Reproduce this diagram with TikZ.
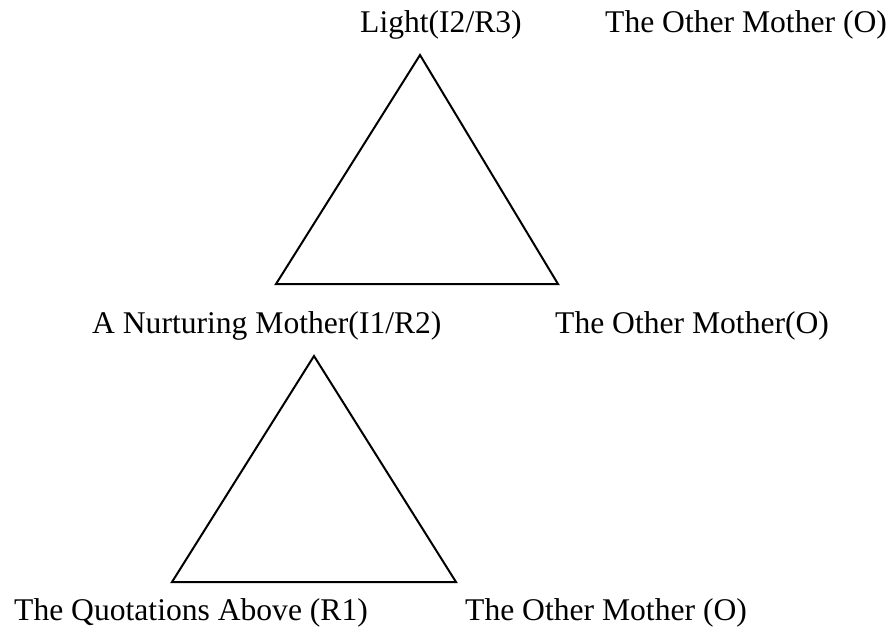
\documentclass[tikz,border=0pt]{standalone}
\usepackage{fontspec}
\setmainfont{Liberation Serif}
\begin{document}
\begin{tikzpicture}[x=1pt,y=-1pt,
  lbl/.style={inner sep=0pt,anchor=base west,font=\fontsize{31.6}{38}\selectfont},
  tri/.style={line width=2pt,line join=miter}]
\useasboundingbox (0,0) rectangle (891,631);
% labels
\node[lbl] (light) at (360,33) {Light(I2/R3)};
\node[lbl] (om1) at (605,33) {The Other Mother (O)};
\node[lbl] (nurt) at (92,333) {A Nurturing Mother(I1/R2)};
\node[lbl] (om2) at (555,333) {The Other Mother(O)};
\node[lbl] (quot) at (14,620) {The Quotations Above (R1)};
\node[lbl] (om3) at (465,620) {The Other Mother (O)};
% triangle 1
\coordinate (a1) at (420,55);
\coordinate (b1) at (276,284);
\coordinate (c1) at (558,284);
\draw[tri] (a1) -- (b1) -- (c1) -- cycle;
% triangle 2
\coordinate (a2) at (314,356);
\coordinate (b2) at (172,582);
\coordinate (c2) at (456,582);
\draw[tri] (a2) -- (b2) -- (c2) -- cycle;
\end{tikzpicture}
\end{document}
